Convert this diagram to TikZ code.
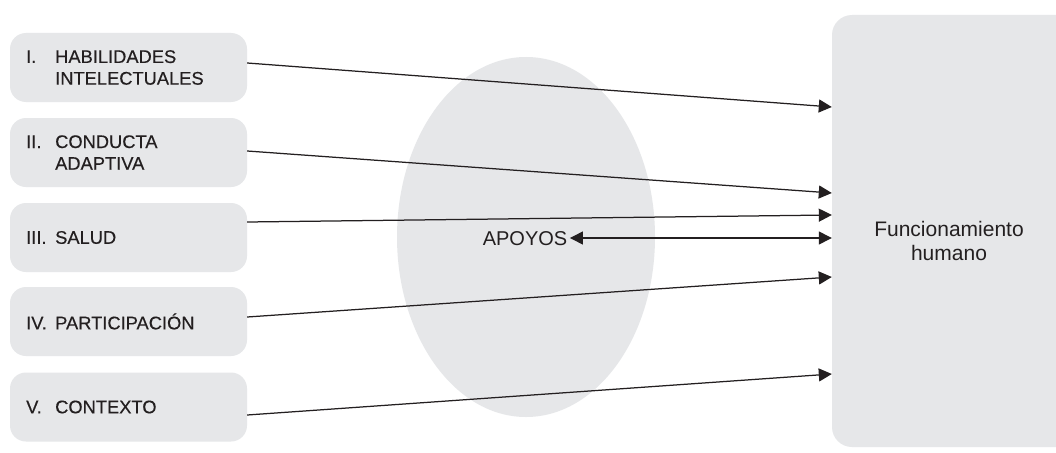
\documentclass[tikz,border=0pt]{standalone}
\usepackage{fontspec}
\setmainfont{Liberation Sans}
\newfontfamily\lblfont[FakeBold=0.35]{Liberation Sans}
\usetikzlibrary{arrows.meta}
\definecolor{boxgray}{HTML}{E6E7E9}
\definecolor{ink}{HTML}{231F20}
\begin{document}
\begin{tikzpicture}[x=1pt,y=-1pt,
  dimbox/.style={fill=boxgray,draw=none,rounded corners=16pt,minimum width=237pt,minimum height=69pt,inner sep=0pt},
  lbl/.style={anchor=west,inner sep=0pt,text=ink,font=\lblfont\fontsize{18.3}{21.7}\selectfont,align=left},
  tip/.style={Triangle[length=13pt,width=13pt]},
  conn/.style={draw=ink,line width=1.25pt,-{Triangle[length=13pt,width=13pt]}}]
\clip (0,0) rectangle (1056,452);
\fill[white] (0,0) rectangle (1056,452);
% ellipse
\fill[boxgray] (526,237) ellipse [x radius=129, y radius=180];
% big box
\node[fill=boxgray,rounded corners=20pt,minimum width=260pt,minimum height=432pt,inner sep=0pt] (F) at (962,231) {};
\node[text=ink,font=\fontsize{21}{23.3}\selectfont,align=center] (fh) at (949,241) {Funcionamiento\\humano};
% left boxes
\node[dimbox] (b1) at (128.5,67.5) {};
\node[dimbox] (b2) at (128.5,152.5) {};
\node[dimbox] (b3) at (128.5,237.5) {};
\node[dimbox] (b4) at (128.5,321.5) {};
\node[dimbox] (b5) at (128.5,407) {};
\node[lbl] (t1) at (26,67.5) {\makebox[29pt][l]{I.}HABILIDADES\\\hspace*{29pt}INTELECTUALES};
\node[lbl] (t2) at (26,152.5) {\makebox[29pt][l]{II.}CONDUCTA\\\hspace*{29pt}ADAPTIVA};
\node[lbl] (t3) at (26,237.5) {\makebox[29pt][l]{III.}SALUD};
\node[lbl] (t4) at (26,321.5) {\makebox[29pt][l]{IV.}PARTICIPACIÓN};
\node[lbl] (t5) at (26,407) {\makebox[29pt][l]{V.}CONTEXTO};
% apoyos
\node[text=ink,font=\fontsize{20}{22}\selectfont,inner sep=2.5pt] (ap) at (525,239) {APOYOS};
% connectors
\draw[conn] ([yshift=4.5pt]b1.east) -- ([yshift=124pt]F.west);
\draw[conn] ([yshift=1.5pt]b2.east) -- ([yshift=38pt]F.west);
\draw[conn] ([yshift=15.5pt]b3.east) -- ([yshift=16pt]F.west);
\draw[conn] ([yshift=4.5pt]b4.east) -- ([yshift=-46pt]F.west);
\draw[conn] ([yshift=-8pt]b5.east) -- ([yshift=-143pt]F.west);
\draw[conn,{Triangle[length=13pt,width=13pt]}-{Triangle[length=13pt,width=13pt]}] ([yshift=1pt]ap.east) -- ([yshift=1pt]ap.east -| F.west);
\end{tikzpicture}
\end{document}
